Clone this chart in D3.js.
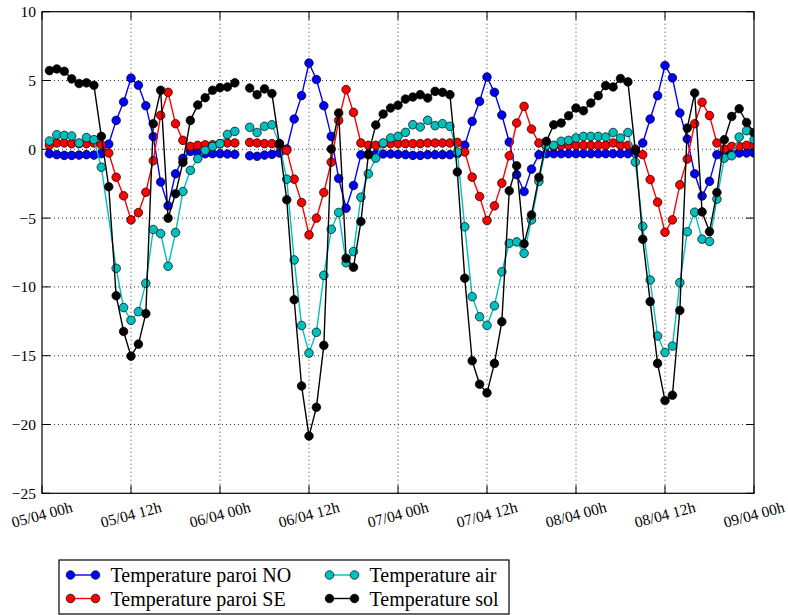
<!DOCTYPE html>
<html><head><meta charset="utf-8">
<script src="https://cdn.jsdelivr.net/npm/d3@7"></script>
<style>body{margin:0;background:#fff}svg{display:block}</style>
</head><body><svg id="chart" width="788" height="615"></svg>
<script>
// ---------- data ----------
const tickLabels = ["05/04 00h","05/04 12h","06/04 00h","06/04 12h","07/04 00h","07/04 12h","08/04 00h","08/04 12h","09/04 00h"];
const yTicks = [10,5,0,-5,-10,-15,-20,-25];
const seriesNames = ["Temperature paroi NO","Temperature paroi SE","Temperature air","Temperature sol"];
const GAP = null;      // missing record: line is broken
const NS = undefined;  // no sample for that hour: line continues
// hourly values from 05/04 01h to 09/04 00h
const paroiNO = [
 -0.32,-0.39,-0.44,-0.44,-0.42,-0.39,-0.42,-0.32,0.38,2.1,
 3.44,5.17,4.66,3.17,0.92,-2.38,-4.1,-1.78,-0.66,-0.15,
 -0.27,-0.32,-0.32,-0.32,-0.34,-0.37,GAP,-0.47,-0.51,-0.42,
 -0.37,-0.27,0.02,2.2,3.9,6.27,5.07,3.17,0.94,-2.12,
 -4.28,-2.63,-0.4,-0.34,-0.34,-0.34,-0.34,-0.37,-0.39,-0.44,
 -0.44,-0.39,-0.39,-0.39,-0.39,-0.32,0.3,2.03,3.48,5.25,
 4.14,2.49,0.53,-1.85,-3.07,-1.44,-0.39,-0.32,-0.32,-0.32,
 -0.32,-0.32,-0.32,-0.32,-0.32,-0.32,-0.32,-0.32,-0.32,-0.3,
 0.46,2.2,3.9,6.09,5.19,2.64,0.75,-1.78,-3.39,-2.33,
 -0.39,-0.2,-0.25,-0.27,-0.27,-0.27];
const paroiSE = [
 0.29,0.46,0.46,0.41,0.41,0.41,0.46,0.33,-0.27,-2.03,
 -3.38,-5.13,-4.6,-3.12,-0.83,2.47,4.14,1.86,0.65,0.21,
 0.29,0.33,0.33,0.41,0.46,0.46,GAP,0.5,0.46,0.41,
 0.41,0.29,-0.08,-2.17,-3.87,-6.22,-5.0,-3.14,-0.93,2.1,
 4.34,2.68,0.46,0.29,0.29,0.41,0.41,0.41,0.41,0.41,
 0.41,0.46,0.46,0.46,0.46,0.5,-0.2,-2.02,-3.43,-5.18,
 -4.11,-2.46,-0.47,1.91,3.12,1.47,0.46,0.26,0.21,0.29,
 0.29,0.29,0.29,0.29,0.29,0.29,0.46,0.29,0.29,0.02,
 -0.39,-2.2,-3.84,-6.03,-5.13,-2.58,-0.71,1.86,3.42,2.45,
 0.46,0.02,0.21,0.21,0.29,0.29];
const air = [
 0.6,1.06,1.01,0.97,0.46,0.85,0.7,-1.3,NS,-8.65,
 -11.5,-12.43,-11.8,-9.74,-5.83,-6.12,-8.5,-6.05,-3.07,-1.53,
 -0.68,-0.08,0.21,0.41,1.08,1.3,GAP,1.6,1.22,1.67,
 1.78,0.41,-2.17,-8.04,-12.8,-14.81,-13.3,-9.16,-5.81,-4.59,
 -8.24,-7.43,-3.48,-1.78,-0.64,0.46,0.82,0.94,1.23,1.79,
 1.62,2.11,1.72,1.86,1.67,-0.2,-5.63,-10.71,-12.17,-12.8,
 -11.37,-8.9,-6.83,-6.73,-7.56,-5.13,-2.33,0.26,0.29,0.58,
 0.65,0.82,0.94,0.94,0.94,0.89,1.22,0.82,1.22,-0.93,
 -5.6,-9.5,-13.57,-14.77,-14.3,-9.69,-5.99,-4.57,-6.53,-6.7,
 -3.62,-0.64,-0.47,0.89,1.35,0.7];
const sol = [
 5.72,5.84,5.67,5.12,4.78,4.83,4.65,0.94,-2.72,-10.64,
 -13.24,-15.03,-14.16,-11.94,1.86,4.29,-5.0,-3.23,-0.95,2.1,
 3.22,3.75,4.29,4.48,4.53,4.83,GAP,4.45,3.97,4.39,
 4.05,0.41,-3.67,-10.93,-17.2,-20.84,-18.75,-14.25,0.02,2.64,
 -7.92,-8.57,-5.25,-0.4,1.77,2.56,3.0,3.2,3.65,3.8,
 3.97,3.73,4.21,4.14,3.97,-1.65,-9.37,-15.37,-17.07,-17.7,
 -15.56,-12.53,-3.01,-1.2,-6.87,-4.77,-2.04,0.58,1.78,1.91,
 2.44,3.0,2.8,3.36,3.9,4.63,4.53,5.14,4.9,-0.08,
 -6.54,-11.07,-15.56,-18.26,-17.87,-11.71,1.54,4.09,-4.55,-5.98,
 -3.14,0.7,2.39,2.95,1.95,1.22];
const seriesColors = ["#0000ff","#ff0000","#00bfbf","#000000"];

// ---------- layout ----------
const L = 42, R = 754, T = 11.7, B = 493.3;
const FONT = "'Liberation Serif','Times New Roman',serif";
const svg = d3.select("#chart");

const x = d3.scaleLinear().domain([0, 96]).range([L, R]);  // hours since 05/04 00h
const y = d3.scaleLinear().domain([-25, 10]).range([B, T]);
const xTickHours = tickLabels.map((_, i) => i * 12);

svg.append("defs").append("clipPath").attr("id","plotclip")
  .append("rect").attr("x", L).attr("y", T).attr("width", R - L).attr("height", B - T);

// grid
const grid = svg.append("g").attr("stroke","#000").attr("stroke-width",0.8).attr("stroke-dasharray","1,3");
grid.selectAll("line.gx").data(xTickHours.slice(1, -1)).join("line")
  .attr("x1", d => x(d)).attr("x2", d => x(d)).attr("y1", T).attr("y2", B);
grid.selectAll("line.gy").data(yTicks.slice(1, -1)).join("line")
  .attr("x1", L).attr("x2", R).attr("y1", d => y(d)).attr("y2", d => y(d));

// series
const allSeries = [paroiNO, paroiSE, air, sol];
const plot = svg.append("g").attr("clip-path","url(#plotclip)");
allSeries.forEach((vals, si) => {
  const pts = vals.map((v, i) => ({h: i + 1, v})).filter(d => d.v !== undefined);
  const line = d3.line().defined(d => d.v !== null).x(d => x(d.h)).y(d => y(d.v));
  plot.append("path").datum(pts).attr("d", line)
    .attr("fill","none").attr("stroke", seriesColors[si]).attr("stroke-width",1.4)
    .attr("stroke-linejoin","round");
  plot.append("g").selectAll("circle").data(pts.filter(d => d.v !== null)).join("circle")
    .attr("cx", d => x(d.h)).attr("cy", d => y(d.v)).attr("r", 4.3)
    .attr("fill", seriesColors[si]).attr("stroke","#000").attr("stroke-width",0.7);
});

// frame
svg.append("rect").attr("x", L).attr("y", T).attr("width", R - L).attr("height", B - T)
  .attr("fill","none").attr("stroke","#000").attr("stroke-width",1.2);

// ticks (inside, all four sides)
const tk = svg.append("g").attr("stroke","#000").attr("stroke-width",1);
const TL = 8;
xTickHours.forEach(h => {
  tk.append("line").attr("x1", x(h)).attr("x2", x(h)).attr("y1", B).attr("y2", B - TL);
  tk.append("line").attr("x1", x(h)).attr("x2", x(h)).attr("y1", T).attr("y2", T + TL);
});
yTicks.forEach(v => {
  tk.append("line").attr("x1", L).attr("x2", L + TL).attr("y1", y(v)).attr("y2", y(v));
  tk.append("line").attr("x1", R).attr("x2", R - TL).attr("y1", y(v)).attr("y2", y(v));
});

// y labels
svg.append("g").selectAll("text").data(yTicks).join("text")
  .attr("x", L - 6).attr("y", d => y(d)).attr("dy","0.35em")
  .attr("text-anchor","end").attr("font-family", FONT).attr("font-size", 15.5)
  .text(d => d < 0 ? "\u2212" + Math.abs(d) : String(d));

// x labels (rotated, centered on tick)
svg.append("g").selectAll("text").data(tickLabels).join("text")
  .attr("transform", (d, i) => `translate(${x(xTickHours[i])},${514.5}) rotate(-15)`)
  .attr("text-anchor","middle").attr("dy","0.35em")
  .attr("font-family", FONT).attr("font-size", 15.5)
  .text(d => d);

// legend
const lg = svg.append("g");
const LX = 59, LY = 560, LW = 450, LH = 54;
lg.append("rect").attr("x", LX).attr("y", LY).attr("width", LW).attr("height", LH)
  .attr("fill","#fff").attr("stroke","#000").attr("stroke-width",1.2);
const rowY = [575, 598.5];
const colX = [70.5, 329.5];
seriesNames.forEach((name, i) => {
  const col = Math.floor(i / 2), row = i % 2;
  const cx0 = colX[col], cy = rowY[row];
  const g = lg.append("g");
  g.append("line").attr("x1", cx0).attr("x2", cx0 + 25).attr("y1", cy).attr("y2", cy)
    .attr("stroke", seriesColors[i]).attr("stroke-width",1.4);
  [cx0, cx0 + 25].forEach(px => g.append("circle").attr("cx", px).attr("cy", cy).attr("r", 4.3)
    .attr("fill", seriesColors[i]).attr("stroke","#000").attr("stroke-width",0.7));
  g.append("text").attr("x", cx0 + 40).attr("y", cy).attr("dy","0.35em")
    .attr("font-family", FONT).attr("font-size", 20).text(name);
});
</script></body></html>
